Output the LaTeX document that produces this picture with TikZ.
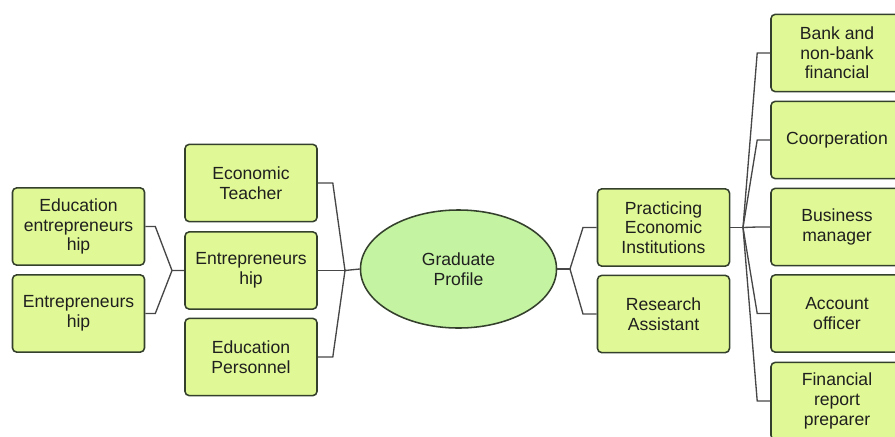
\documentclass[tikz,border=0pt]{standalone}
\usepackage{fontspec}
\setmainfont{Liberation Sans}
\usetikzlibrary{shapes.geometric}

\definecolor{boxgreen}{HTML}{E0F895}
\definecolor{ovalgreen}{HTML}{C4F4A2}
\definecolor{edgedark}{HTML}{34402C}
\definecolor{linegray}{HTML}{474747}

\begin{document}
\begin{tikzpicture}[x=0.025cm, y=-0.025cm,
    profbox/.style={draw=edgedark, line width=1.1pt, fill=boxgreen, rounded corners=3pt,
        minimum width=3.3cm, minimum height=1.93cm, inner sep=0pt, align=center,
        font=\fontsize{12.5}{14}\selectfont, text=black!88},
    profoval/.style={draw=edgedark, line width=1.1pt, fill=ovalgreen, ellipse,
        minimum width=4.9cm, minimum height=2.95cm, inner sep=0pt, align=center,
        font=\fontsize{12.5}{14}\selectfont, text=black!88},
    link/.style={draw=linegray, line width=0.95pt}]

    \useasboundingbox (0,0) rectangle (895,436);

    %Center
    \node[profoval] (grad) at (458.5,269) {Graduate\\Profile};

    %Left branch
    \node[profbox] (teacher) at (251,183) {Economic\\Teacher};
    \node[profbox] (entmid) at (251,270.5) {Entrepreneurs\\hip};
    \node[profbox] (personnel) at (251,357) {Education\\Personnel};
    \node[profbox] (eduent) at (78.5,226.5) {Education\\entrepreneurs\\hip};
    \node[profbox] (entleft) at (78.5,313.5) {Entrepreneurs\\hip};

    %Right branch
    \node[profbox] (practice) at (663.5,227.5) {Practicing\\Economic\\Institutions};
    \node[profbox] (research) at (663.5,314) {Research\\Assistant};
    \node[profbox] (bank) at (837,53) {Bank and\\non-bank\\financial};
    \node[profbox] (coop) at (837,140) {Coorperation};
    \node[profbox] (business) at (837,227) {Business\\manager};
    \node[profbox] (account) at (837,313.5) {Account\\officer};
    \node[profbox] (report) at (837,401) {Financial\\report\\preparer};

    %Junctions
    \coordinate (jl) at (172,270.5);
    \coordinate (jc) at (345,270.5);
    \coordinate (jr) at (570,269);
    \coordinate (jp) at (743,227.5);

    %Connectors
    \draw[link] (eduent.east) -- ++(10,0) -- (jl) -- (entmid.west);
    \draw[link] (entleft.east) -- ++(10,0) -- (jl);

    \draw[link] (teacher.east) -- ++(15,0) -- (jc) -- (grad.west);
    \draw[link] (personnel.east) -- ++(15,0) -- (jc);
    \draw[link] (entmid.east) -- (jc);

    \draw[link] (grad.east) -- (jr);
    \draw[link] (jr) -- (583,227.5) -- (practice.west);
    \draw[link] (jr) -- (583,314) -- (research.west);

    \draw[link] (practice.east) -- (jp);
    \foreach \n in {bank,coop,business,account,report}
        \draw[link] (jp) -- ([xshift=-13*0.025cm]\n.west) -- (\n.west);

\end{tikzpicture}
\end{document}
